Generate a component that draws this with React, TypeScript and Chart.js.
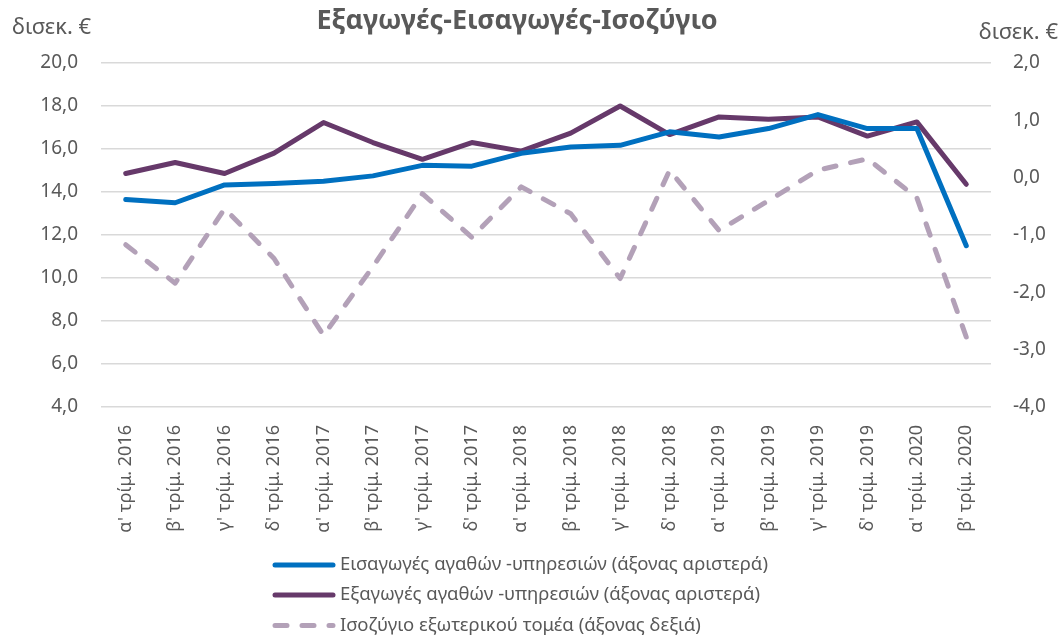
import React, { useEffect, useRef } from "react";
import { Chart, registerables } from "chart.js";

Chart.register(...registerables);

const categories = [
  "α' τρίμ. 2016", "β' τρίμ. 2016", "γ' τρίμ. 2016", "δ' τρίμ. 2016",
  "α' τρίμ. 2017", "β' τρίμ. 2017", "γ' τρίμ. 2017", "δ' τρίμ. 2017",
  "α' τρίμ. 2018", "β' τρίμ. 2018", "γ' τρίμ. 2018", "δ' τρίμ. 2018",
  "α' τρίμ. 2019", "β' τρίμ. 2019", "γ' τρίμ. 2019", "δ' τρίμ. 2019",
  "α' τρίμ. 2020", "β' τρίμ. 2020",
];

const importsValues = [
  13.65, 13.5, 14.33, 14.4, 14.5, 14.75, 15.24, 15.2, 15.8,
  16.09, 16.17, 16.8, 16.56, 16.95, 17.6, 16.95, 16.95, 11.5,
];

const exportsValues = [
  14.86, 15.37, 14.86, 15.81, 17.23, 16.3, 15.52, 16.3, 15.9,
  16.74, 18.0, 16.67, 17.49, 17.38, 17.49, 16.6, 17.26, 14.36,
];

const balanceValues = [
  -1.17, -1.84, -0.54, -1.41, -2.75, -1.55, -0.28, -1.04, -0.16,
  -0.63, -1.76, 0.13, -0.92, -0.4, 0.13, 0.33, -0.35, -2.78,
];

const seriesLabels = [
  "Εισαγωγές αγαθών -υπηρεσιών (άξονας αριστερά)",
  "Εξαγωγές αγαθών -υπηρεσιών (άξονας αριστερά)",
  "Ισοζύγιο εξωτερικού τομέα (άξονας δεξιά)",
];

const titleText = "Εξαγωγές-Εισαγωγές-Ισοζύγιο";
const unitText = "δισεκ. €";

const FONT = "'Noto Sans', 'Open Sans', sans-serif";
const TEXT = "#595959";

const fmt = (v: number) => v.toFixed(1).replace(".", ",");

const decorPlugin = {
  id: "decor",
  afterDraw(chart: any) {
    const ctx = chart.ctx as CanvasRenderingContext2D;
    const area = chart.chartArea;
    ctx.save();
    // title
    ctx.fillStyle = TEXT;
    ctx.font = `bold 27px ${FONT}`;
    ctx.textAlign = "center";
    ctx.textBaseline = "middle";
    ctx.fillText(titleText, 517, 21);
    // unit labels
    ctx.font = `22px ${FONT}`;
    ctx.textAlign = "left";
    ctx.fillText(unitText, 12, 28);
    ctx.textAlign = "right";
    ctx.fillText(unitText, 1058, 33);
    // legend
    const rows = [area.bottom + 158, area.bottom + 188, area.bottom + 218.5];
    chart.data.datasets.forEach((ds: any, i: number) => {
      const y = rows[i];
      ctx.save();
      ctx.strokeStyle = ds.borderColor;
      ctx.lineWidth = ds.borderWidth;
      ctx.lineCap = "round";
      ctx.setLineDash(ds.borderDash || []);
      ctx.beginPath();
      ctx.moveTo(275, y);
      ctx.lineTo(333, y);
      ctx.stroke();
      ctx.restore();
      ctx.fillStyle = TEXT;
      ctx.font = `18.5px ${FONT}`;
      ctx.textAlign = "left";
      ctx.textBaseline = "middle";
      ctx.fillText(ds.label, 340, y);
    });
    ctx.restore();
  },
};

export default function App() {
  const ref = useRef<HTMLCanvasElement>(null);
  useEffect(() => {
    if (!ref.current) return;
    const chart = new Chart(ref.current, {
      type: "line",
      data: {
        labels: categories,
        datasets: [
          {
            label: seriesLabels[0],
            data: importsValues,
            borderColor: "#0070C0",
            backgroundColor: "#0070C0",
            borderWidth: 5,
            pointRadius: 0,
            yAxisID: "y",
            borderCapStyle: "round",
            borderJoinStyle: "round",
            tension: 0,
          },
          {
            label: seriesLabels[1],
            data: exportsValues,
            borderColor: "#66396A",
            backgroundColor: "#66396A",
            borderWidth: 5,
            pointRadius: 0,
            yAxisID: "y",
            borderCapStyle: "round",
            borderJoinStyle: "round",
            tension: 0,
          },
          {
            label: seriesLabels[2],
            data: balanceValues,
            borderColor: "#B3A1B8",
            backgroundColor: "#B3A1B8",
            borderWidth: 5,
            borderDash: [12, 15],
            pointRadius: 0,
            yAxisID: "y1",
            borderCapStyle: "round",
            borderJoinStyle: "round",
            tension: 0,
          },
        ],
      },
      options: {
        animation: false,
        responsive: true,
        maintainAspectRatio: false,
        layout: { padding: { top: 63, left: 0, right: 0, bottom: 0 } },
        plugins: {
          legend: { display: false },
          title: { display: false },
          tooltip: { enabled: false },
        },
        scales: {
          x: {
            offset: true,
            grid: { display: false, drawTicks: false },
            border: { display: false },
            ticks: {
              autoSkip: false,
              maxRotation: 90,
              minRotation: 90,
              padding: 18,
              color: TEXT,
              font: { family: FONT, size: 18 },
            },
            afterFit: (s: any) => {
              s.height = 230;
            },
          },
          y: {
            position: "left",
            min: 4,
            max: 20,
            grid: { color: "#D9D9D9", lineWidth: 1.5, drawTicks: false },
            border: { display: false },
            ticks: {
              stepSize: 2,
              padding: 23,
              color: TEXT,
              font: { family: FONT, size: 19 },
              callback: (v: any) => fmt(Number(v)),
            },
            afterFit: (s: any) => {
              s.width = 101;
            },
          },
          y1: {
            position: "right",
            min: -4,
            max: 2,
            grid: { display: false, drawTicks: false },
            border: { display: false },
            ticks: {
              stepSize: 1,
              padding: 22,
              color: TEXT,
              font: { family: FONT, size: 19 },
              callback: (v: any) => fmt(Number(v)),
            },
            afterFit: (s: any) => {
              s.width = 72;
            },
          },
        },
      },
      plugins: [decorPlugin],
    });
    return () => chart.destroy();
  }, []);
  return (
    <div style={{ position: "absolute", left: 0, top: 0, width: 1063, height: 637, background: "#fff" }}>
      <canvas ref={ref} />
    </div>
  );
}
